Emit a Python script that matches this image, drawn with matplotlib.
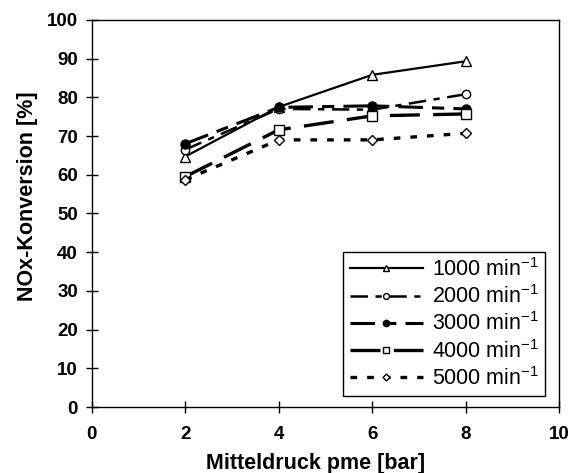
import matplotlib
matplotlib.use("Agg")
import matplotlib.pyplot as plt

plt.rcParams['font.family'] = ['Liberation Sans', 'DejaVu Sans']
plt.rcParams['mathtext.fontset'] = 'custom'
plt.rcParams['mathtext.rm'] = 'Liberation Sans'
plt.rcParams['mathtext.it'] = 'Liberation Sans:italic'
plt.rcParams['mathtext.bf'] = 'Liberation Sans:bold'

# Mitteldruck pme [bar]
pme = [2, 4, 6, 8]

# NOx-Konversion [%] je Drehzahl
nox_1000 = [64.7, 77.5, 85.8, 89.3]
nox_2000 = [66.5, 77.0, 76.8, 80.8]
nox_3000 = [68.0, 77.4, 77.8, 77.0]
nox_4000 = [59.5, 71.6, 75.2, 75.7]
nox_5000 = [58.7, 69.0, 69.0, 70.7]

labels = [r'1000 min$^{-1}$', r'2000 min$^{-1}$', r'3000 min$^{-1}$',
          r'4000 min$^{-1}$', r'5000 min$^{-1}$']

fig = plt.figure(figsize=(5.74, 4.73), dpi=100)
ax = fig.add_axes([0.160, 0.1395, 0.814, 0.8185])

ax.plot(pme, nox_1000, color='black', linestyle='-', linewidth=1.6,
        marker='^', markersize=6.5, markerfacecolor='white', markeredgecolor='black',
        label=labels[0])
ax.plot(pme, nox_2000, color='black', linestyle=(0, (7, 3, 2.5, 3)), linewidth=1.8,
        marker='o', markersize=6, markerfacecolor='white', markeredgecolor='black',
        label=labels[1])
ax.plot(pme, nox_3000, color='black', linestyle=(0, (8, 3, 4, 3)), linewidth=2.2,
        marker='o', markersize=6.5, markerfacecolor='black', markeredgecolor='black',
        label=labels[2])
ax.plot(pme, nox_4000, color='black', linestyle=(0, (9, 4)), linewidth=2.4,
        marker='s', markersize=6.5, markerfacecolor='white', markeredgecolor='black',
        label=labels[3])
ax.plot(pme, nox_5000, color='black', linestyle=(0, (2, 3)), linewidth=2.4,
        marker='D', markersize=5, markerfacecolor='white', markeredgecolor='black',
        label=labels[4])

ax.set_xlim(0, 10)
ax.set_ylim(0, 100)
ax.set_xticks(range(0, 11, 2))
ax.set_yticks(range(0, 101, 10))
ax.tick_params(axis='both', direction='inout', length=8, width=1, labelsize=13.5)
ax.tick_params(axis='x', pad=10)
ax.tick_params(axis='y', pad=6)
for lab in ax.get_xticklabels() + ax.get_yticklabels():
    lab.set_fontweight('bold')
for sp in ax.spines.values():
    sp.set_linewidth(1)
    sp.set_color('black')

ax.set_xlabel('Mitteldruck pme [bar]', fontsize=15.5, fontweight='bold')
ax.set_ylabel('NOx-Konversion [%]', fontsize=15.5, fontweight='bold')
ax.xaxis.set_label_coords(0.479, -0.12)
ax.yaxis.set_label_coords(-0.115, 0.545)

leg = ax.legend(loc='lower right', bbox_to_anchor=(0.970, 0.028), borderaxespad=0,
                fontsize=15.5, markerscale=0.7, handlelength=3.4, handletextpad=0.4,
                labelspacing=0.2, borderpad=0.3, fancybox=False, framealpha=1,
                edgecolor='black')
leg.get_frame().set_linewidth(1)

fig.savefig('out.png', dpi=100)
